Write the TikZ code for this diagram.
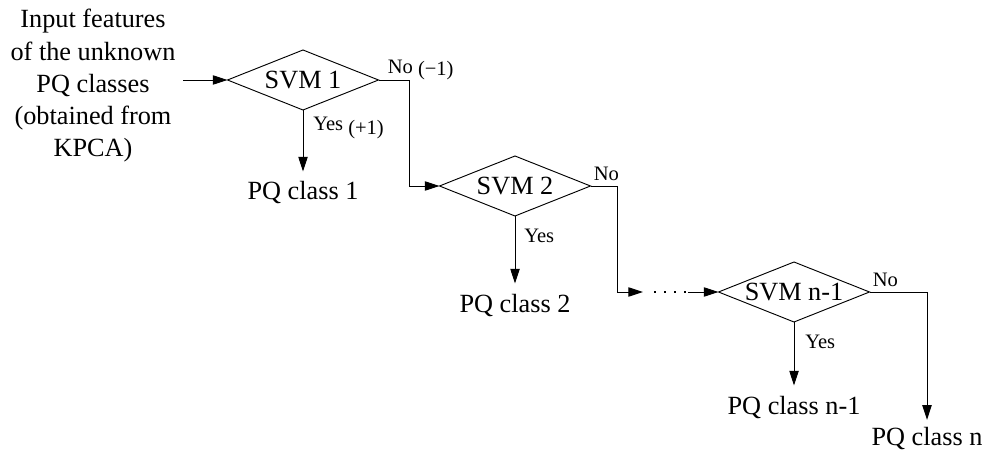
\documentclass[tikz,border=0pt]{standalone}
\usepackage{fontspec}
\setmainfont{Liberation Serif}
\usetikzlibrary{shapes.geometric,arrows.meta,calc}
\newcommand\svmfont{\fontsize{19.7pt}{24.2pt}\selectfont}
\newcommand\tagfont{\fontsize{15.4pt}{18pt}\selectfont}
\begin{document}
\begin{tikzpicture}[x=0.75pt,y=-0.75pt,
  svmbox/.style={diamond,draw,line width=0.7pt,aspect=2.5,inner sep=0pt,outer sep=0pt,minimum width=113.25pt,minimum height=45pt,font=\svmfont},
  classbox/.style={inner xsep=0pt,inner ysep=7.5pt,font=\svmfont,anchor=base},
  tagbox/.style={inner sep=0pt,font=\tagfont,anchor=base west},
  arr/.style={line width=0.7pt,-{Triangle[length=11pt,width=7pt]}},
  dots/.style={line width=1.5pt,dash pattern=on 1.5pt off 6pt}]
\useasboundingbox (0,0) rectangle (984,452);
\node[align=center,font=\svmfont,inner sep=0pt] (feat) at (93,86) {Input features\\of the unknown\\PQ classes\\(obtained from\\KPCA)};
\coordinate (start) at (183,80);
\node[svmbox] (svm1) at (303,80) {SVM 1};
\node[svmbox] (svm2) at (515,186) {SVM 2};
\node[svmbox] (svmn) at (794,292) {SVM n-1};
\node[classbox] (cls1) at (303,200) {PQ class 1};
\node[classbox] (cls2) at (515,312) {PQ class 2};
\node[classbox] (clsn1) at (794,414) {PQ class n-1};
\node[classbox,inner ysep=5pt] (clsn) at (927,445) {PQ class n};
\coordinate (gapL) at (643,292);
\coordinate (gapR) at (688,292);
\draw[arr] (start) -- (svm1.west);
\draw[arr] (svm1.south) -- (cls1);
\draw[arr] (svm1.east) -- ++(31,0) |- (svm2.west);
\draw[arr] (svm2.south) -- (cls2);
\draw[arr] (svm2.east) -- ++(27,0) |- (gapL);
\draw[dots] ($(gapL)+(11,0)$) -- ($(gapR)+(-2,0)$);
\draw[arr] (gapR) -- (svmn.west);
\draw[arr] (svmn.south) -- (clsn1);
\draw[arr] (svmn.east) -| (clsn);
\node[tagbox] (no1) at ($(svm1.east)+(9,-6)$) {No \raisebox{-1pt}{(−1)}};
\node[tagbox] (yes1) at ($(svm1.south)+(10,21)$) {Yes \raisebox{-3pt}{(+1)}};
\node[tagbox] (no2) at ($(svm2.east)+(3,-5)$) {No};
\node[tagbox] (yes2) at ($(svm2.south)+(9,27)$) {Yes};
\node[tagbox] (non) at ($(svmn.east)+(3,-6)$) {No};
\node[tagbox] (yesn) at ($(svmn.south)+(11,26)$) {Yes};
\end{tikzpicture}
\end{document}
